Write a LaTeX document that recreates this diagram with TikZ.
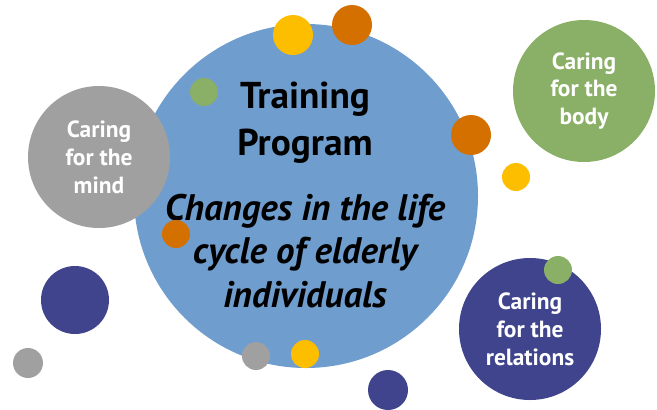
\documentclass[tikz,border=0pt]{standalone}
\usepackage{fontspec}
\setmainfont{PT Sans}
\definecolor{mainblue}{HTML}{6F9ECE}
\definecolor{mindgray}{HTML}{A0A0A0}
\definecolor{bodygreen}{HTML}{8AAF66}
\definecolor{relblue}{HTML}{3F448C}
\definecolor{dotorange}{HTML}{D47000}
\definecolor{dotyellow}{HTML}{FDBE00}
\begin{document}
\begin{tikzpicture}[x=1bp, y=-1bp]
        \tikzstyle{big_circ}   = [shape = circle, inner sep = 0pt, text = white, align = center,
                                  font = \bfseries\fontsize{23.5}{28}\selectfont, minimum size = 142bp]
        \tikzstyle{dot}        = [shape = circle, inner sep = 0pt]

        \useasboundingbox (0,0) rectangle (657,409);

        % main circle and its texts
        \node[dot, fill = mainblue, minimum size = 344bp] at (306, 196) (prog) {};
        \node[align = center, font = \bfseries\fontsize{37.5}{47}\selectfont]
          at (305, 123) (title) {Training\\Program};
        \node[align = center, font = \bfseries\itshape\fontsize{37}{44}\selectfont]
          at (305, 251) (topic) {Changes in the life\\cycle of elderly\\individuals};

        % the four areas
        \node[big_circ, fill = mindgray]  at ( 99, 157) (mind) {Caring\\for the\\mind};
        \node[big_circ, fill = bodygreen] at (584,  91) (body) {Caring\\for the\\body};
        \node[big_circ, fill = relblue]   at (530, 329) (rel)  {Caring\\for the\\relations};

        % dots
        \node[dot, fill = dotyellow, minimum size = 40bp] at (293,  35) (d1) {};
        \node[dot, fill = dotorange, minimum size = 40bp] at (352,  25) (d2) {};
        \node[dot, fill = bodygreen, minimum size = 28bp] at (204,  92) (d3) {};
        \node[dot, fill = dotorange, minimum size = 40bp] at (471, 135) (d4) {};
        \node[dot, fill = dotyellow, minimum size = 28bp] at (516, 177) (d5) {};
        \node[dot, fill = dotorange, minimum size = 28bp] at (176, 234) (d6) {};
        \node[dot, fill = bodygreen, minimum size = 28bp] at (558, 270) (d7) {};
        \node[dot, fill = relblue,   minimum size = 68bp] at ( 75, 300) (d8) {};
        \node[dot, fill = mindgray,  minimum size = 30bp] at ( 28, 363) (d9) {};
        \node[dot, fill = mindgray,  minimum size = 28bp] at (256, 356) (d10) {};
        \node[dot, fill = dotyellow, minimum size = 28bp] at (305, 354) (d11) {};
        \node[dot, fill = relblue,   minimum size = 40bp] at (388, 390) (d12) {};
      \end{tikzpicture}
\end{document}
